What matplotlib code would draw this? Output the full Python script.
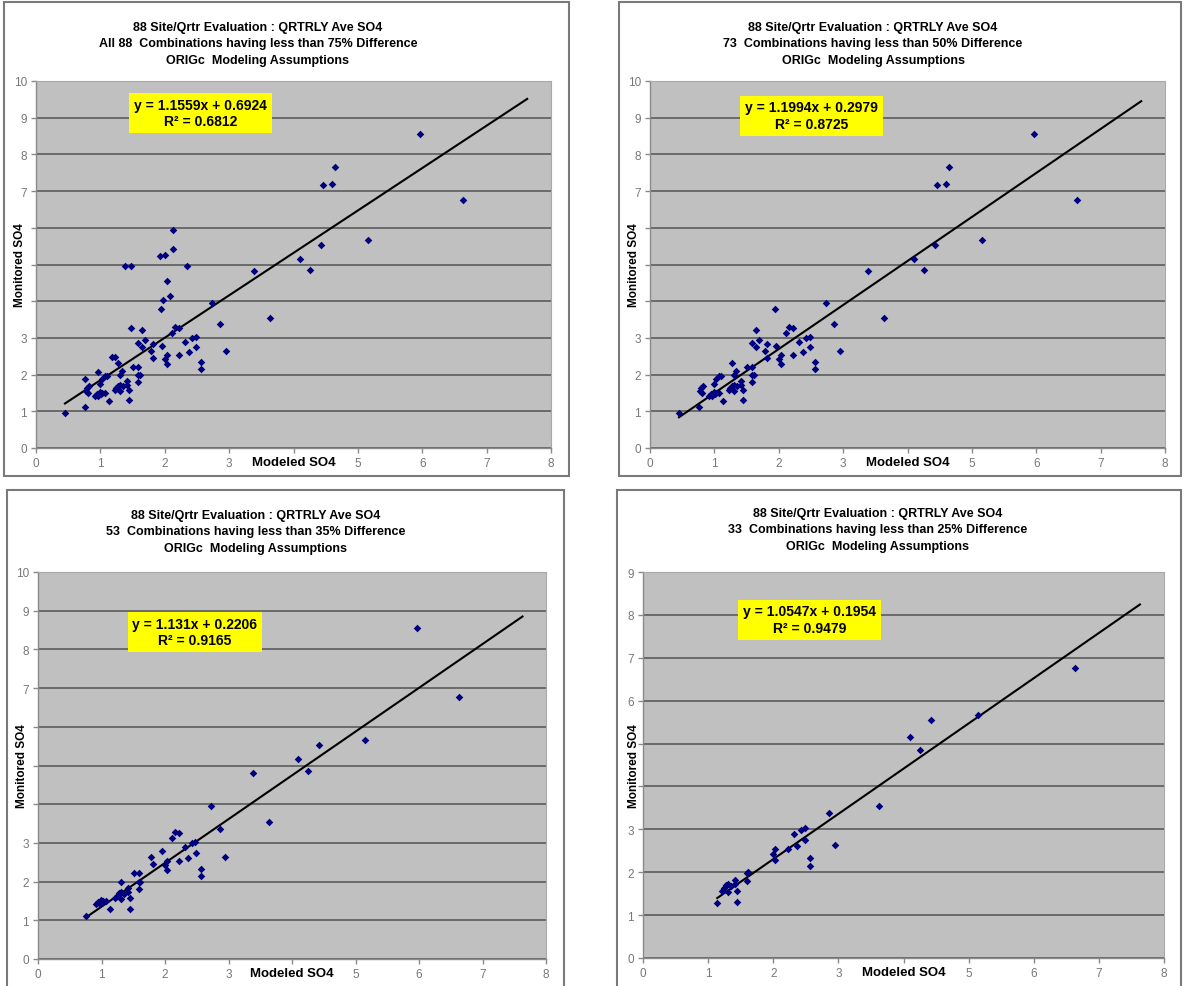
import numpy as np
import matplotlib
matplotlib.use("Agg")
import matplotlib.pyplot as plt
from matplotlib.patches import Rectangle

plt.rcParams['font.family'] = ['Liberation Sans', 'DejaVu Sans']

# points within 25% (used by every panel)
core_x = [1.14, 1.22, 1.25, 1.27, 1.31, 1.31, 1.42, 1.42, 1.45, 1.45, 1.59, 1.59, 1.61,
          2.00, 2.03, 2.03, 2.22, 2.32, 2.37, 2.42, 2.48, 2.49, 2.56, 2.56, 2.86, 2.95,
          3.63, 4.10, 4.25, 4.42, 5.15, 6.63, 1.35]
core_y = [1.28, 1.57, 1.63, 1.70, 1.73, 1.55, 1.83, 1.73, 1.57, 1.30, 1.98, 1.80, 2.00,
          2.43, 2.53, 2.29, 2.53, 2.89, 2.62, 2.99, 3.02, 2.74, 2.33, 2.15, 3.37, 2.64,
          3.55, 5.16, 4.86, 5.54, 5.67, 6.76, 1.68]
# extra points 25-35%
add35_x = [0.76, 0.92, 0.95, 0.99, 1.03, 1.07, 0.97, 1.01, 1.30, 1.51, 1.59, 1.78, 1.81,
           1.96, 2.11, 2.16, 2.22, 2.73, 3.38, 5.97]
add35_y = [1.12, 1.41, 1.48, 1.53, 1.51, 1.49, 1.42, 1.46, 2.00, 2.22, 2.22, 2.63, 2.46,
           2.78, 3.13, 3.29, 3.26, 3.95, 4.81, 8.55]
# extra points 35-50%
add50_x = [0.45, 0.77, 0.79, 0.83, 0.80, 1.00, 1.03, 1.07, 1.11, 1.28, 1.33, 1.58, 1.64,
           1.65, 1.70, 1.81, 1.94, 4.46, 4.60, 4.64]
add50_y = [0.95, 1.56, 1.63, 1.70, 1.49, 1.75, 1.88, 1.96, 1.97, 2.31, 2.11, 2.86, 3.22,
           2.75, 2.95, 2.84, 3.79, 7.17, 7.18, 7.67]
# extra points 50-75%
add75_x = [0.76, 0.97, 1.18, 1.23, 1.38, 1.47, 1.47, 1.93, 2.01, 2.03, 1.97, 2.08, 2.13,
           2.13, 2.34]
add75_y = [1.88, 2.08, 2.48, 2.49, 4.95, 4.97, 3.27, 5.23, 5.26, 4.55, 4.04, 4.15, 5.93,
           5.42, 4.95]

title1 = "88 Site/Qrtr Evaluation : QRTRLY Ave SO4"
title3 = "ORIGc  Modeling Assumptions"
subtitles = ["All 88  Combinations having less than 75% Difference",
             "73  Combinations having less than 50% Difference",
             "53  Combinations having less than 35% Difference",
             "33  Combinations having less than 25% Difference"]
slopes = [1.1559, 1.1994, 1.131, 1.0547]
intercepts = [0.6924, 0.2979, 0.2206, 0.1954]
r2_values = [0.6812, 0.8725, 0.9165, 0.9479]
slope_txt = ["1.1559", "1.1994", "1.131", "1.0547"]
y_max = [10, 10, 10, 9]

sets_x = [core_x + add35_x + add50_x + add75_x,
          core_x + add35_x + add50_x,
          core_x + add35_x,
          core_x]
sets_y = [core_y + add35_y + add50_y + add75_y,
          core_y + add35_y + add50_y,
          core_y + add35_y,
          core_y]

W, H = 1183, 987
fig = plt.figure(figsize=(W / 100, H / 100), dpi=100)

# layout in pixels
frames = [(4, 3, 569, 477), (619, 3, 1181, 477), (7, 491, 564, 1000), (617, 491, 1181, 1000)]
plots = [(36, 82, 551, 449), (650, 82, 1165, 449), (38, 573, 546, 960), (643, 573, 1164, 959)]
title_cx = [258, 873, 256, 878]
title_y0 = [28, 28, 516, 514]
ylab_x = [20, 634, 22, 634]
box_pos = [(0.319, 0.913), (0.314, 0.905), (0.309, 0.845), (0.319, 0.876)]

for i in range(4):
    x0, y0, x1, y1 = frames[i]
    fig.add_artist(Rectangle((x0 / W, 1 - y1 / H), (x1 - x0) / W, (y1 - y0) / H,
                             transform=fig.transFigure, fill=False, ec='#7a7a7a', lw=1.5))
    for k, t in enumerate([title1, subtitles[i], title3]):
        fig.text(title_cx[i] / W, 1 - (title_y0[i] + k * 16.5) / H, t, ha='center', va='center',
                 fontsize=9.0, fontweight='bold')

    px0, py0, px1, py1 = plots[i]
    ax = fig.add_axes([px0 / W, 1 - py1 / H, (px1 - px0) / W, (py1 - py0) / H])
    ax.set_facecolor('#C0C0C0')
    ax.set_xlim(0, 8)
    ax.set_ylim(0, y_max[i])
    yt = list(range(0, y_max[i] + 1))
    hide_y = [4, 5, 6] if y_max[i] == 10 else [4, 5]
    ax.set_yticks(yt)
    ax.set_yticklabels([str(v) if v not in hide_y else '' for v in yt])
    ax.set_xticks(range(9))
    ax.set_xticklabels([str(v) if v != 4 else '' for v in range(9)])
    ax.yaxis.grid(True, color='#6a6a6a', lw=1.4)
    ax.set_axisbelow(True)
    for s in ['left', 'bottom']:
        ax.spines[s].set_color('#8a8a8a')
        ax.spines[s].set_linewidth(1.0)
    for s in ['top', 'right']:
        ax.spines[s].set_color('#a9a9a9')
        ax.spines[s].set_linewidth(0.8)
    ax.tick_params(direction='out', length=3.5, width=1, color='#8a8a8a',
                   labelcolor='#777777', labelsize=8.5, pad=3)

    xs = np.array(sets_x[i])
    ys = np.array(sets_y[i])
    ax.scatter(xs, ys, marker='D', s=15, c='#000080', linewidths=0, zorder=3)
    lx = np.array([xs.min(), xs.max() + 1])
    ax.plot(lx, slopes[i] * lx + intercepts[i], color='black', lw=1.5, zorder=2)

    eq = "y = %sx + %.4f\nR² = %.4f" % (slope_txt[i], intercepts[i], r2_values[i])
    ax.text(box_pos[i][0], box_pos[i][1], eq, transform=ax.transAxes, ha='center', va='center',
            fontsize=10, fontweight='bold', linespacing=1.25, multialignment='center',
            bbox=dict(boxstyle='square,pad=0.35', fc='#FFFF00', ec='none'), zorder=4)

    fig.text(ylab_x[i] / W, 1 - (py0 + py1) / 2 / H, "Monitored SO4", rotation=90,
             ha='center', va='center', fontsize=8.5, fontweight='bold')
    fig.text((px0 + (px1 - px0) / 2) / W, 1 - (py1 + 14) / H, "Modeled SO4",
             ha='center', va='center', fontsize=9.5, fontweight='bold')

fig.savefig("out.png", dpi=100)
